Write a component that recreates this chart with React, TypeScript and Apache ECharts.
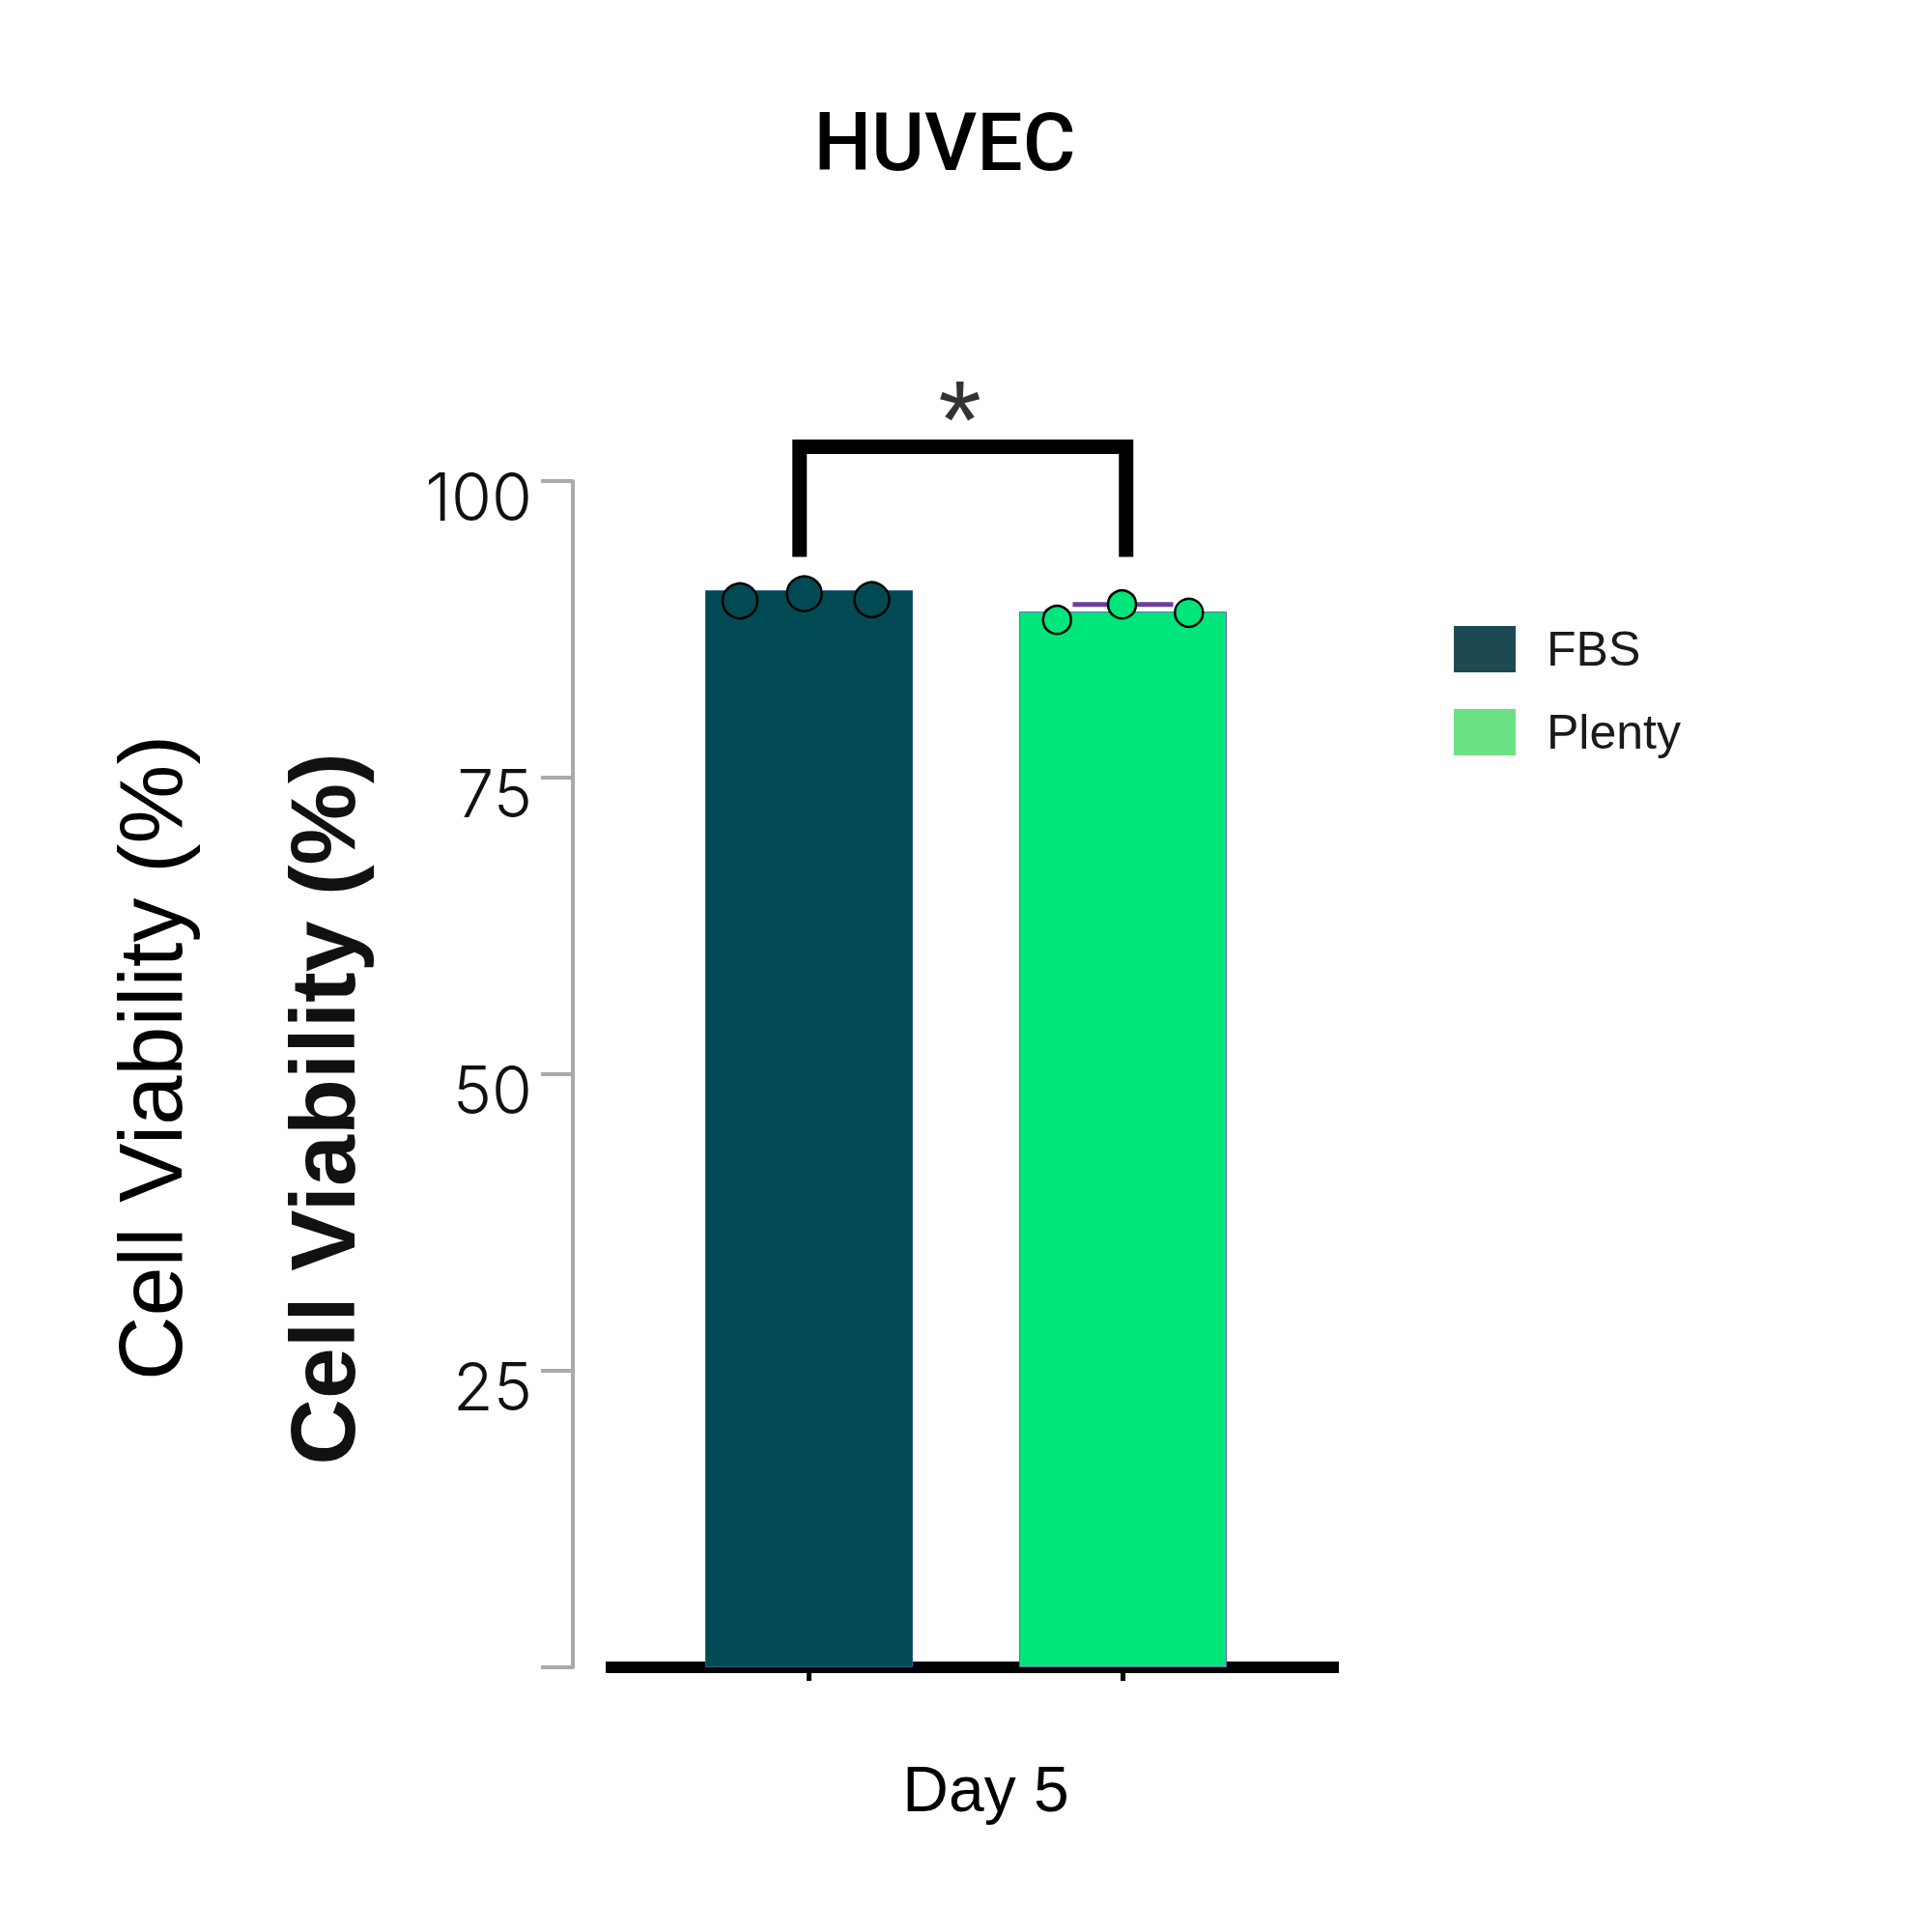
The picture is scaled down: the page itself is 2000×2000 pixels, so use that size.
import React, { useEffect, useRef } from "react";
import * as echarts from "echarts";

const chartTitle = "HUVEC";
const yAxisTitle = "Cell Viability (%)";
const xCategory = "Day 5";
const groups = ["FBS", "Plenty"];
const groupPositions = [1, 2];
const barMeans = [90.8, 89.0];
const fbsReplicates = [89.9, 90.5, 90.0];
const fbsJitter = [-0.22, -0.015, 0.2];
const plentyReplicates = [88.3, 89.6, 88.9];
const plentyJitter = [-0.21, -0.003, 0.21];
const plentyErrorTop = 89.6;
const plentyErrorSpan = [1.84, 2.16];
const bracketX = [0.97, 2.01];
const bracketY = [93.6, 102.9];
const starPos = [1.48, 105.2];
const yMin = 0;
const yMax = 100;
const yInterval = 25;

const barColors = ["#024a53", "#00e67a"];
const legendColors = ["#1d4a52", "#6be184"];

export default function App() {
  const ref = useRef<HTMLDivElement>(null);
  useEffect(() => {
    document.body.style.margin = "0";
    if (!ref.current) return;
    const chart = echarts.init(ref.current, null, { renderer: "svg" });
    const option: any = {
      animation: false,
      backgroundColor: "#ffffff",
      title: {
        text: chartTitle,
        left: 973,
        top: 100,
        textAlign: "center",
        textStyle: { fontFamily: "Roboto", fontWeight: 500, fontSize: 84, color: "#000" },
      },
      legend: {
        orient: "vertical",
        left: 1505,
        top: 647,
        padding: 0,
        itemWidth: 64,
        itemHeight: 48,
        itemGap: 36,
        icon: "rect",
        textStyle: {
          fontFamily: "Liberation Sans",
          fontSize: 50,
          color: "#1a1a1a",
          padding: [0, 0, 0, 27],
        },
        data: groups.map((g, i) => ({
          name: g,
          itemStyle: { color: legendColors[i], borderWidth: 0 },
        })),
      },
      grid: [
        { left: 675, right: 675, top: 498, bottom: 274 },
        { left: 627, right: 614, top: 498, bottom: 274 },
      ],
      xAxis: [
        {
          type: "value",
          gridIndex: 0,
          min: 0.5,
          max: 2.5,
          axisLine: { show: false },
          splitLine: { show: false },
          axisLabel: { show: false },
          axisTick: {
            show: true,
            customValues: groupPositions,
            length: 14,
            lineStyle: { color: "#000", width: 5 },
          },
        },
        {
          type: "category",
          gridIndex: 1,
          data: [xCategory],
          axisLine: { show: true, lineStyle: { color: "#000", width: 12, cap: "butt" } },
          axisTick: { show: false },
          axisLabel: {
            fontFamily: "Liberation Sans",
            fontSize: 66,
            color: "#000",
            margin: 93,
            padding: [0, 0, 0, 28],
          },
        },
      ],
      yAxis: [
        {
          type: "value",
          gridIndex: 0,
          min: yMin,
          max: yMax,
          interval: yInterval,
          offset: 82,
          splitLine: { show: false },
          axisLine: { show: true, lineStyle: { color: "#aaaaaa", width: 4 } },
          axisTick: { show: true, length: 33, lineStyle: { color: "#aaaaaa", width: 4 } },
          axisLabel: {
            formatter: (v: number) => (v === 0 ? "" : String(v)),
            fontFamily: "Inter",
            fontWeight: 300,
            fontSize: 68,
            color: "#111",
            margin: 42,
            verticalAlign: "top",
            lineHeight: 32,
          },
        },
        { type: "value", gridIndex: 1, min: yMin, max: yMax, show: false },
      ],
      graphic: [
        {
          type: "text",
          x: 156,
          y: 1095,
          rotation: Math.PI / 2,
          style: {
            text: yAxisTitle,
            fontFamily: "Liberation Sans",
            fontSize: 92,
            fill: "#000",
            textAlign: "center",
            textVerticalAlign: "middle",
          },
        },
        {
          type: "text",
          x: 334,
          y: 1148,
          rotation: Math.PI / 2,
          style: {
            text: yAxisTitle,
            fontFamily: "Liberation Sans",
            fontWeight: "bold",
            fontSize: 95,
            fill: "#111",
            textAlign: "center",
            textVerticalAlign: "middle",
          },
        },
      ],
      series: [
        ...groups.map((g, i) => ({
          name: g,
          type: "bar",
          xAxisIndex: 0,
          yAxisIndex: 0,
          barWidth: 215,
          barGap: "-100%",
          data: [[groupPositions[i], barMeans[i]]],
          itemStyle: {
            color: barColors[i],
            borderColor: i === 0 ? "#2b5d8c" : "#7a5cc0",
            borderWidth: 1,
          },
          z: 2,
        })),
        {
          name: "Plenty SD",
          type: "line",
          xAxisIndex: 0,
          yAxisIndex: 0,
          symbol: "none",
          data: plentyErrorSpan.map((x) => [x, plentyErrorTop]),
          lineStyle: { color: "#6b3fa0", width: 5 },
          z: 3,
        },
        {
          name: "FBS points",
          type: "scatter",
          xAxisIndex: 0,
          yAxisIndex: 0,
          symbolSize: 36,
          clip: false,
          data: fbsReplicates.map((v, i) => [groupPositions[0] + fbsJitter[i], v]),
          itemStyle: { color: barColors[0], borderColor: "#000", borderWidth: 2.5, opacity: 1 },
          z: 5,
        },
        {
          name: "Plenty points",
          type: "scatter",
          xAxisIndex: 0,
          yAxisIndex: 0,
          symbolSize: 29,
          clip: false,
          data: plentyReplicates.map((v, i) => [groupPositions[1] + plentyJitter[i], v]),
          itemStyle: { color: barColors[1], borderColor: "#000", borderWidth: 2.5, opacity: 1 },
          z: 5,
        },
        {
          name: "bracket",
          type: "line",
          xAxisIndex: 0,
          yAxisIndex: 0,
          clip: false,
          symbol: "none",
          data: [
            [bracketX[0], bracketY[0]],
            [bracketX[0], bracketY[1]],
            [bracketX[1], bracketY[1]],
            [bracketX[1], bracketY[0]],
          ],
          lineStyle: { color: "#000", width: 15, cap: "butt", join: "miter" },
          z: 4,
        },
        {
          name: "significance",
          type: "scatter",
          xAxisIndex: 0,
          yAxisIndex: 0,
          clip: false,
          symbolSize: 1,
          itemStyle: { color: "rgba(0,0,0,0)" },
          data: [starPos],
          label: {
            show: true,
            position: "inside",
            formatter: "*",
            fontFamily: "Liberation Sans",
            fontSize: 115,
            color: "#000",
          },
          z: 5,
        },
      ],
    };
    chart.setOption(option);
    return () => chart.dispose();
  }, []);
  return <div ref={ref} style={{ width: 2000, height: 2000 }} />;
}
